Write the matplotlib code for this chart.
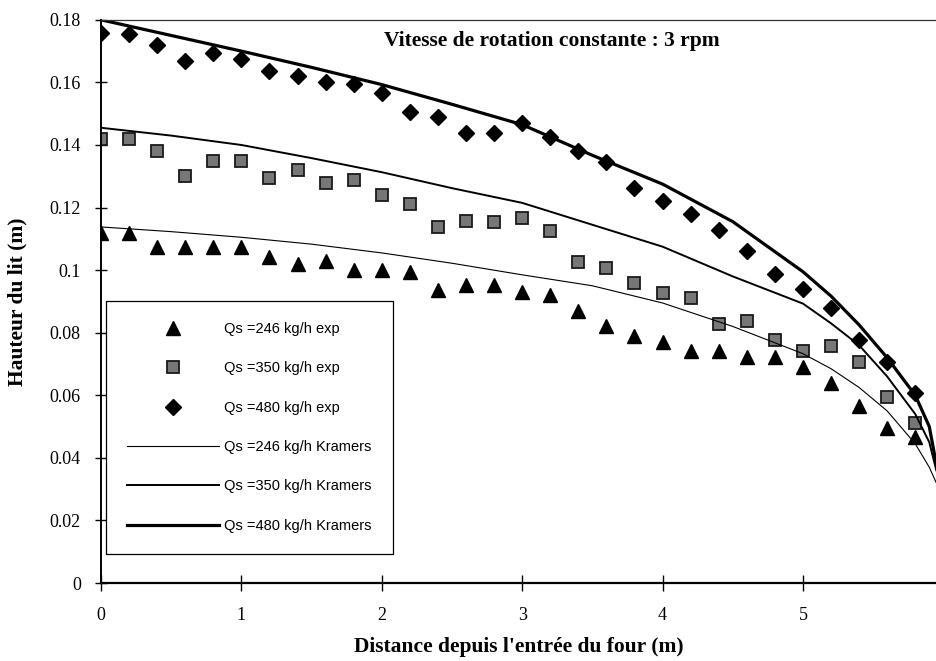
import numpy as np
import matplotlib
matplotlib.use('Agg')
import matplotlib.pyplot as plt

# position le long du four (m)
x_exp = [0, 0.2, 0.4, 0.6, 0.8, 1.0, 1.2, 1.4, 1.6, 1.8, 2.0, 2.2, 2.4, 2.6, 2.8,
         3.0, 3.2, 3.4, 3.6, 3.8, 4.0, 4.2, 4.4, 4.6, 4.8, 5.0, 5.2, 5.4, 5.6, 5.8]

h246_exp = [0.112, 0.112, 0.1074, 0.1074, 0.1074, 0.1074, 0.1042, 0.102, 0.103, 0.100,
            0.100, 0.0994, 0.0937, 0.0953, 0.0953, 0.093, 0.092, 0.087, 0.082, 0.079,
            0.077, 0.074, 0.074, 0.0722, 0.0722, 0.069, 0.064, 0.0566, 0.0496, 0.0467]
h350_exp = [0.142, 0.142, 0.138, 0.130, 0.135, 0.135, 0.1295, 0.132, 0.128, 0.1288,
            0.124, 0.121, 0.1138, 0.1157, 0.1154, 0.1167, 0.1125, 0.1026, 0.1007, 0.096,
            0.0927, 0.0911, 0.0828, 0.0838, 0.0777, 0.0742, 0.0758, 0.0707, 0.0595, 0.0512]
h480_exp = [0.1758, 0.1755, 0.172, 0.1669, 0.1694, 0.1675, 0.1637, 0.162, 0.160, 0.1595,
            0.1566, 0.1506, 0.149, 0.1439, 0.1439, 0.147, 0.1426, 0.138, 0.1346, 0.1263,
            0.122, 0.118, 0.1128, 0.106, 0.0988, 0.094, 0.088, 0.0777, 0.0707, 0.0607]

# modele de Kramers
x_mod = [0, 0.5, 1.0, 1.5, 2.0, 2.5, 3.0, 3.5, 4.0, 4.5, 5.0, 5.2, 5.4, 5.6, 5.8, 5.9, 5.95]
h246_mod = [0.1138, 0.1123, 0.1105, 0.1083, 0.1055, 0.1022, 0.0985, 0.095, 0.0895, 0.082,
            0.0733, 0.0685, 0.0625, 0.055, 0.0445, 0.037, 0.032]
h350_mod = [0.1455, 0.143, 0.140, 0.1358, 0.1313, 0.1262, 0.1215, 0.1145, 0.1075, 0.098,
            0.0893, 0.083, 0.076, 0.066, 0.054, 0.045, 0.036]
h480_mod = [0.180, 0.175, 0.170, 0.1648, 0.1593, 0.153, 0.1465, 0.1367, 0.1275, 0.1155,
            0.0995, 0.0917, 0.0825, 0.072, 0.060, 0.050, 0.038]

yticks = [0, 0.02, 0.04, 0.06, 0.08, 0.1, 0.12, 0.14, 0.16, 0.18]
ytick_labels = ['0', '0.02', '0.04', '0.06', '0.08', '0.1', '0.12', '0.14', '0.16', '0.18']
xticks = [0, 1, 2, 3, 4, 5]

serif = ['Liberation Serif', 'DejaVu Serif']
sans = ['Liberation Sans', 'DejaVu Sans']

fig = plt.figure(figsize=(9.37, 6.61), dpi=100)
ax = fig.add_axes([0.1078, 0.118, 0.8922, 0.852])

ax.plot(x_exp, h246_exp, linestyle='none', marker='^', ms=10, color='black',
        label='Qs =246 kg/h exp')
ax.plot(x_exp, h350_exp, linestyle='none', marker='s', ms=9, mfc='#777777', mec='#1a1a1a',
        mew=1.3, label='Qs =350 kg/h exp')
ax.plot(x_exp, h480_exp, linestyle='none', marker='D', ms=8, color='black',
        label='Qs =480 kg/h exp')
ax.plot(x_mod, h246_mod, color='black', lw=0.8, label='Qs =246 kg/h Kramers')
ax.plot(x_mod, h350_mod, color='black', lw=1.4, label='Qs =350 kg/h Kramers')
ax.plot(x_mod, h480_mod, color='black', lw=2.3, label='Qs =480 kg/h Kramers')

ax.set_xlim(0, 5.955)
ax.set_ylim(0, 0.18)
ax.set_yticks(yticks)
ax.set_yticklabels(ytick_labels, fontfamily=serif, fontsize=13)
ax.set_xticks(xticks)
ax.set_xticklabels([str(t) for t in xticks], fontfamily=serif, fontsize=13)
ax.tick_params(axis='y', direction='inout', length=9, width=1, pad=10)
ax.tick_params(axis='x', direction='inout', length=11, width=1, pad=12)

ax.spines['right'].set_visible(False)
ax.spines['left'].set_linewidth(1.4)
ax.spines['bottom'].set_linewidth(1.6)
ax.spines['top'].set_linewidth(0.9)
ax.spines['top'].set_color('#333333')

ax.set_ylabel('Hauteur du lit (m)', fontfamily=serif, fontsize=15.5, fontweight='bold',
              labelpad=16)
ax.set_xlabel("Distance depuis l'entrée du four (m)", fontfamily=serif, fontsize=15.5,
              fontweight='bold', labelpad=9)
ax.text(0.339, 0.962, 'Vitesse de rotation constante : 3 rpm', transform=ax.transAxes,
        fontfamily=serif, fontsize=15.5, fontweight='bold', va='center', ha='left')

leg = ax.legend(loc='upper left', bbox_to_anchor=(0.006, 0.501), borderaxespad=0,
                prop={'family': sans, 'size': 10.5}, frameon=True, fancybox=False,
                edgecolor='black', framealpha=1, labelspacing=1.74, borderpad=1.45,
                handlelength=6.3, handletextpad=0.35)
leg.get_frame().set_linewidth(0.9)

fig.savefig('out.png', dpi=100)
